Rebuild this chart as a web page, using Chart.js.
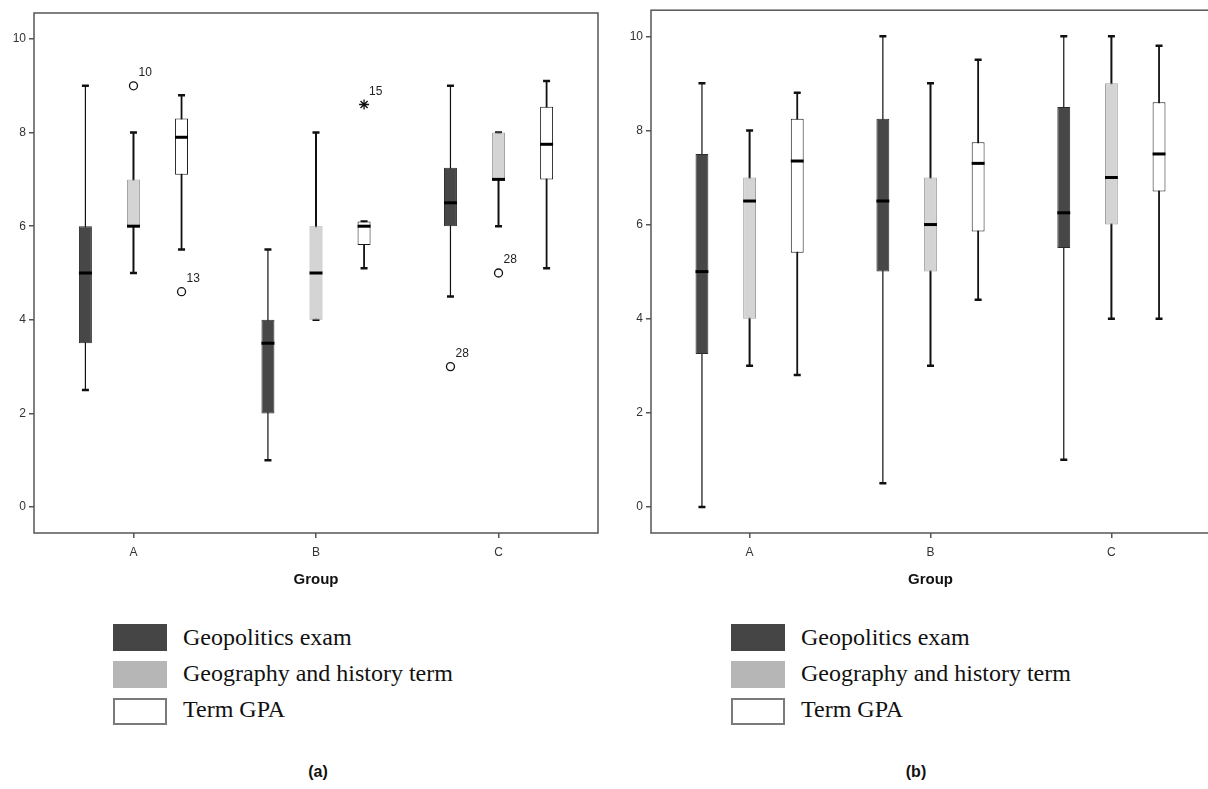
<!DOCTYPE html>
<html>
<head>
<meta charset="utf-8">
<title>Box plots by group</title>
<script src="https://cdn.jsdelivr.net/npm/chart.js@4.4.1/dist/chart.umd.min.js"></script>
<style>
  html, body { margin: 0; padding: 0; background: #fff; }
  body { position: relative; width: 1208px; height: 789px; overflow: hidden; }
  .panel { position: absolute; top: 0; height: 600px; }
  #panelA { left: 0; width: 600px; }
  #panelB { left: 600px; width: 610px; }
  .swatch { position: absolute; width: 54px; height: 27px; box-sizing: border-box; }
  .legend-text { position: absolute; font-family: "Liberation Serif", "Times New Roman", serif; font-size: 24px; line-height: 24px; color: #111; white-space: nowrap; }
  .caption { position: absolute; top: 763px; width: 60px; text-align: center; font-family: "Liberation Sans", Arial, sans-serif; font-weight: bold; font-size: 16px; color: #111; }
</style>
</head>
<body>
<div class="panel" id="panelA"><canvas id="chartA"></canvas></div>
<div class="panel" id="panelB"><canvas id="chartB"></canvas></div>
<div id="legends"></div>
<div class="caption" style="left:288px">(a)</div>
<div class="caption" style="left:886px">(b)</div>

<script>
// categories and series
const groups = ['A', 'B', 'C'];
const seriesNames = ['Geopolitics exam', 'Geography and history term', 'Term GPA'];
const yTicks = [0, 2, 4, 6, 8, 10];

// panel (a): [min, q1, median, q3, max] for groups A, B, C
const geopoliticsA = [[2.5, 3.5, 5, 6, 9], [1, 2, 3.5, 4, 5.5], [4.5, 6, 6.5, 7.25, 9]];
const geoHistoryA = [[5, 6, 6, 7, 8], [4, 4, 5, 6, 8], [6, 7, 7, 8, 8]];
const termGpaA = [[5.5, 7.1, 7.9, 8.3, 8.8], [5.1, 5.6, 6, 6.1, 6.1], [5.1, 7, 7.75, 8.55, 9.1]];
// outliers: [group, series index, value, case number, marker]
const outliersA = [
    ['A', 1, 9, '10', 'o'],
    ['A', 2, 4.6, '13', 'o'],
    ['B', 2, 8.6, '15', '*'],
    ['C', 0, 3, '28', 'o'],
    ['C', 1, 5, '28', 'o']
];

// panel (b)
const geopoliticsB = [[0, 3.25, 5, 7.5, 9], [0.5, 5, 6.5, 8.25, 10], [1, 5.5, 6.25, 8.5, 10]];
const geoHistoryB = [[3, 4, 6.5, 7, 8], [3, 5, 6, 7, 9], [4, 6, 7, 9, 10]];
const termGpaB = [[2.8, 5.4, 7.35, 8.25, 8.8], [4.4, 5.85, 7.3, 7.75, 9.5], [4, 6.7, 7.5, 8.6, 9.8]];
const outliersB = [];

// styles
const boxFills = ['#474747', '#d4d4d4', '#ffffff'];
const boxBorders = ['#2b2b2b', '#a3a3a3', '#1a1a1a'];
const whiskerWidths = [1.2, 2, 1.8];
const legendFills = ['#454545', '#b6b6b6', '#ffffff'];
const legendBorders = ['#454545', '#b6b6b6', '#7a7a7a'];
const sansFont = '"Liberation Sans", Arial, sans-serif';

function makeDatasets(stats) {
    return stats.map((s, i) => ({
        label: seriesNames[i],
        data: s.map((b, g) => ({ x: g + 1, y: [b[1], b[3]] })),
        stats: s,
        backgroundColor: boxFills[i],
        borderColor: boxBorders[i],
        borderWidth: 1,
        borderSkipped: false,
        categoryPercentage: 0.79,
        barPercentage: 0.27
    }));
}

function drawMark(ctx, style, x, y) {
    ctx.save();
    ctx.strokeStyle = '#111';
    ctx.fillStyle = '#fff';
    ctx.lineWidth = 1.3;
    if (Chart.helpers && Chart.helpers.drawPoint) {
        Chart.helpers.drawPoint(ctx, {
            pointStyle: style === '*' ? 'star' : 'circle',
            radius: style === '*' ? 5 : 4,
            rotation: 0,
            borderWidth: style === '*' ? 1.6 : 1.3
        }, x, y);
    } else {
        ctx.beginPath();
        ctx.arc(x, y, 4, 0, Math.PI * 2);
        ctx.fill();
        ctx.stroke();
    }
    ctx.restore();
}

// whiskers, caps, medians and outliers on top of the floating bars
const boxPlotParts = {
    id: 'boxPlotParts',
    beforeDatasetsDraw(chart) {
        const ctx = chart.ctx;
        const area = chart.chartArea;
        const yScale = chart.scales.y;
        ctx.save();
        ctx.strokeStyle = '#555';
        ctx.lineWidth = 1.5;
        ctx.strokeRect(area.left, area.top, area.right - area.left, area.bottom - area.top);

        chart.data.datasets.forEach((ds, i) => {
            const meta = chart.getDatasetMeta(i);
            meta.data.forEach((bar, g) => {
                const lo = yScale.getPixelForValue(ds.stats[g][0]);
                const hi = yScale.getPixelForValue(ds.stats[g][4]);
                ctx.strokeStyle = '#111';
                ctx.lineWidth = whiskerWidths[i];
                ctx.beginPath();
                ctx.moveTo(bar.x, lo);
                ctx.lineTo(bar.x, hi);
                ctx.stroke();
                ctx.lineWidth = 2.5;
                ctx.beginPath();
                ctx.moveTo(bar.x - 3.5, lo);
                ctx.lineTo(bar.x + 3.5, lo);
                ctx.moveTo(bar.x - 3.5, hi);
                ctx.lineTo(bar.x + 3.5, hi);
                ctx.stroke();
            });
        });
        ctx.restore();
    },
    afterDatasetsDraw(chart, args, opts) {
        const ctx = chart.ctx;
        const yScale = chart.scales.y;
        ctx.save();
        chart.data.datasets.forEach((ds, i) => {
            const meta = chart.getDatasetMeta(i);
            meta.data.forEach((bar, g) => {
                const m = yScale.getPixelForValue(ds.stats[g][2]);
                ctx.strokeStyle = '#000';
                ctx.lineWidth = 3;
                ctx.beginPath();
                ctx.moveTo(bar.x - bar.width / 2, m);
                ctx.lineTo(bar.x + bar.width / 2, m);
                ctx.stroke();
            });
        });

        (opts.outliers || []).forEach(o => {
            const bar = chart.getDatasetMeta(o[1]).data[groups.indexOf(o[0])];
            const py = yScale.getPixelForValue(o[2]);
            drawMark(ctx, o[4], bar.x, py);
            ctx.fillStyle = '#222';
            ctx.font = '12px ' + sansFont;
            ctx.textAlign = 'left';
            ctx.textBaseline = 'middle';
            ctx.fillText(o[3], bar.x + 5, py - 13);
        });
        ctx.restore();
    }
};

function makeChart(canvasId, stats, outliers, axisWidth, padTop, padRight) {
    return new Chart(document.getElementById(canvasId), {
        type: 'bar',
        data: { datasets: makeDatasets(stats) },
        plugins: [boxPlotParts],
        options: {
            responsive: true,
            maintainAspectRatio: false,
            animation: false,
            layout: { padding: { top: padTop, right: padRight, left: 0, bottom: 0 } },
            plugins: {
                legend: { display: false },
                tooltip: { enabled: false },
                boxPlotParts: { outliers: outliers }
            },
            scales: {
                x: {
                    type: 'linear',
                    min: 0.455,
                    max: 3.545,
                    offset: false,
                    afterBuildTicks: s => { s.ticks = groups.map((g, i) => ({ value: i + 1 })); },
                    afterFit: s => { s.height = 67; },
                    ticks: {
                        callback: v => groups[Math.round(v) - 1],
                        autoSkip: false,
                        maxRotation: 0,
                        padding: 7,
                        color: '#333',
                        font: { family: sansFont, size: 12 }
                    },
                    grid: { offset: false, drawOnChartArea: false, drawTicks: true, tickLength: 5, color: '#555', lineWidth: 1.5 },
                    border: { display: false },
                    title: {
                        display: true,
                        text: 'Group',
                        color: '#111',
                        font: { family: sansFont, size: 15, weight: 'bold' },
                        padding: { top: 0, bottom: 11 }
                    }
                },
                y: {
                    min: -0.555,
                    max: 10.555,
                    afterBuildTicks: s => { s.ticks = yTicks.map(v => ({ value: v })); },
                    afterFit: s => { s.width = axisWidth; },
                    ticks: { padding: 3, color: '#333', font: { family: sansFont, size: 12 } },
                    grid: { drawOnChartArea: false, drawTicks: true, tickLength: 5, color: '#555', lineWidth: 1.5 },
                    border: { display: false }
                }
            }
        }
    });
}

makeChart('chartA', [geopoliticsA, geoHistoryA, termGpaA], outliersA, 34, 13, 2);
makeChart('chartB', [geopoliticsB, geoHistoryB, termGpaB], outliersB, 51, 8, 0);

// legends under each panel
const legendLefts = [113, 731];
const legendBox = document.getElementById('legends');
legendLefts.forEach(left => {
    seriesNames.forEach((name, i) => {
        const top = 624 + i * 37;
        const sw = document.createElement('div');
        sw.className = 'swatch';
        sw.style.left = left + 'px';
        sw.style.top = top + 'px';
        sw.style.background = legendFills[i];
        sw.style.border = '2px solid ' + legendBorders[i];
        legendBox.appendChild(sw);
        const tx = document.createElement('div');
        tx.className = 'legend-text';
        tx.style.left = (left + 70) + 'px';
        tx.style.top = (top + 1 - i) + 'px';
        tx.textContent = name;
        legendBox.appendChild(tx);
    });
});
</script>
</body>
</html>
